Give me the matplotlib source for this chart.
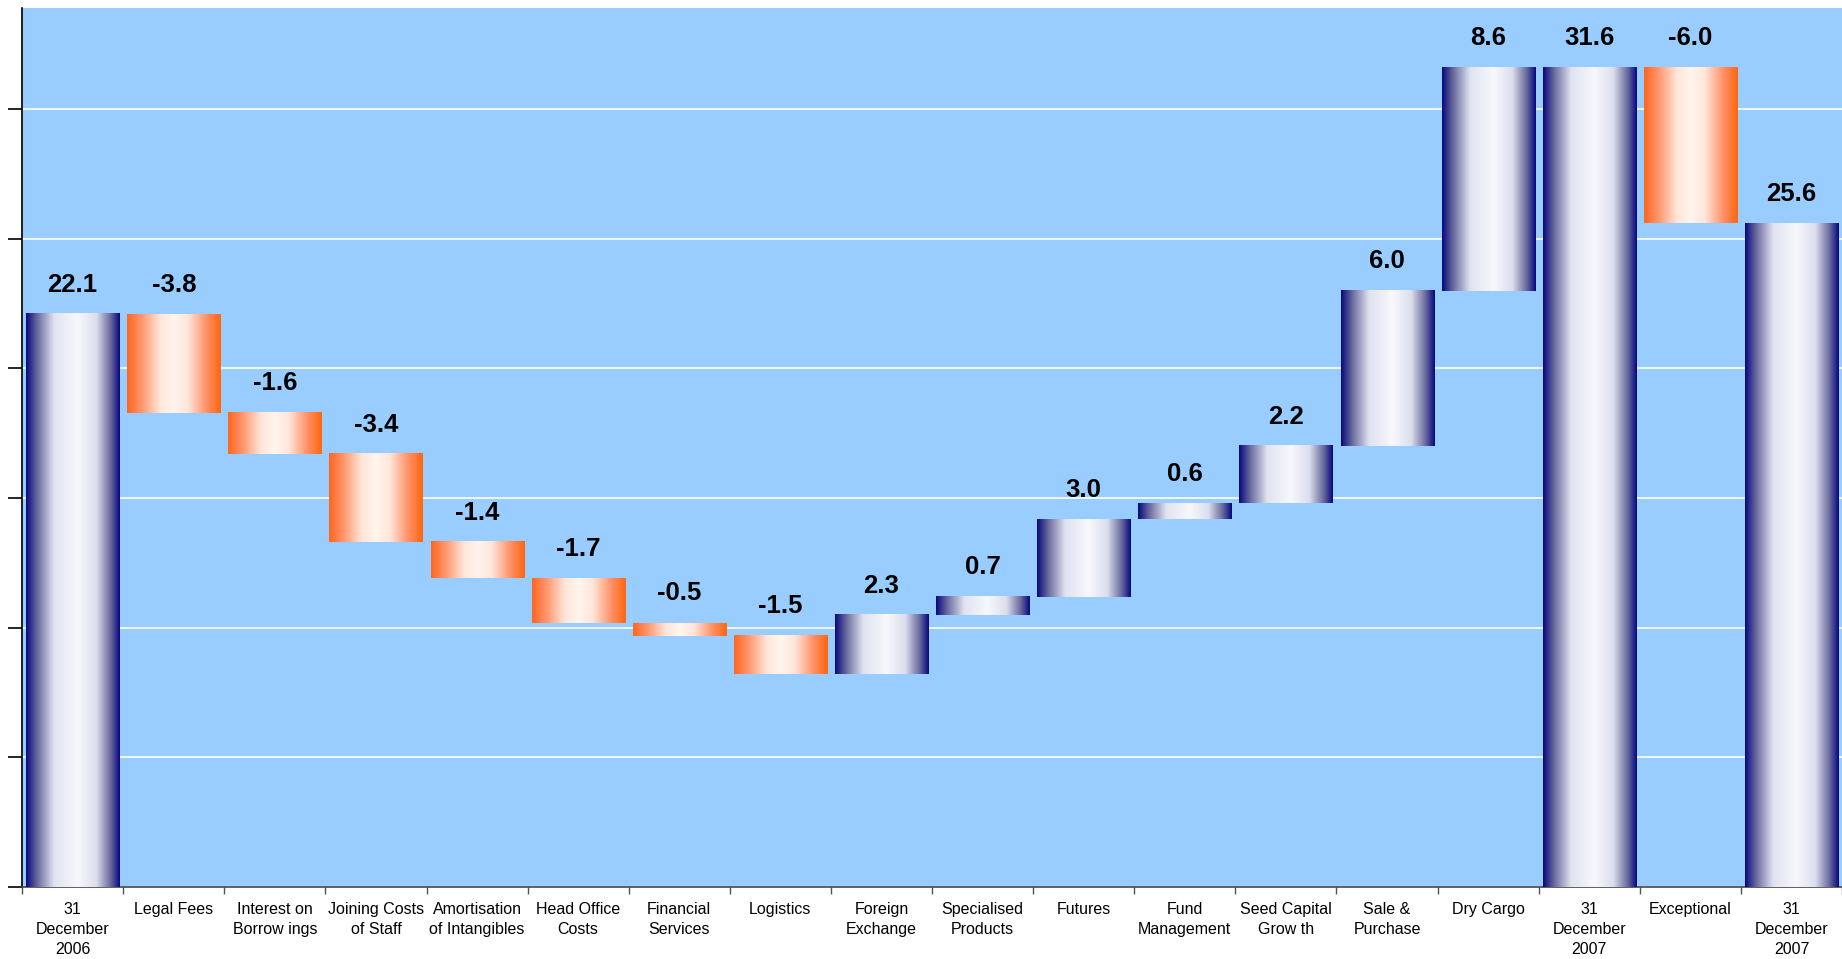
import numpy as np
import matplotlib
matplotlib.use('Agg')
import matplotlib.pyplot as plt
from matplotlib.colors import LinearSegmentedColormap

#-------------------------------------------------------------
# data
categories = ['31\nDecember\n2006', 'Legal Fees', 'Interest on\nBorrow ings',
              'Joining Costs\nof Staff', 'Amortisation\nof Intangibles',
              'Head Office\nCosts', 'Financial\nServices', 'Logistics',
              'Foreign\nExchange', 'Specialised\nProducts', 'Futures',
              'Fund\nManagement', 'Seed Capital\nGrow th', 'Sale &\nPurchase',
              'Dry Cargo', '31\nDecember\n2007', 'Exceptional', '31\nDecember\n2007']
values    = [22.1, -3.8, -1.6, -3.4, -1.4, -1.7, -0.5, -1.5, 2.3, 0.7, 3.0,
             0.6, 2.2, 6.0, 8.6, 31.6, -6.0, 25.6]
is_total  = [True, False, False, False, False, False, False, False, False,
             False, False, False, False, False, False, True, False, True]

#-------------------------------------------------------------
plt.rcParams['font.family'] = ['Liberation Sans', 'DejaVu Sans']

blue_cmap = LinearSegmentedColormap.from_list('blue_grad', [
    (0.00, (0.03, 0.03, 0.50)),
    (0.12, (0.42, 0.42, 0.62)),
    (0.30, (0.88, 0.89, 0.94)),
    (0.55, (0.97, 0.97, 0.99)),
    (0.75, (0.86, 0.87, 0.93)),
    (0.90, (0.42, 0.42, 0.62)),
    (1.00, (0.03, 0.03, 0.50))])
orange_cmap = LinearSegmentedColormap.from_list('orange_grad', [
    (0.00, (1.00, 0.40, 0.12)),
    (0.15, (1.00, 0.58, 0.42)),
    (0.35, (1.00, 0.90, 0.85)),
    (0.50, (1.00, 0.96, 0.93)),
    (0.65, (1.00, 0.90, 0.85)),
    (0.85, (1.00, 0.56, 0.40)),
    (1.00, (1.00, 0.40, 0.05))])

fig = plt.figure(figsize=(18.42, 9.59), dpi=100)
ax = fig.add_axes([0.012, 0.075, 0.988, 0.9167])
ax.set_facecolor('#99CCFF')

grad = np.linspace(0, 1, 256).reshape(1, -1)
bar_w = 0.92
running = 0.0
for i, v in enumerate(values):
    if is_total[i]:
        lo, hi = 0.0, v
        running = v
    else:
        lo, hi = sorted([running, running + v])
        running = running + v
    cmap = orange_cmap if v < 0 else blue_cmap
    ax.imshow(grad, extent=(i - bar_w / 2, i + bar_w / 2, lo, hi),
              cmap=cmap, aspect='auto', interpolation='bilinear', zorder=3)
    ax.annotate('%.1f' % v, xy=(i, hi), xytext=(0, 16), textcoords='offset points',
                ha='center', va='baseline', fontsize=18.5, fontweight='bold',
                color='black', zorder=4)

ax.set_xlim(-0.494, len(values) - 0.53)
ax.set_ylim(0, 33.9)

ax.set_yticks(np.arange(0, 31, 5))
ax.set_yticklabels([])
ax.yaxis.grid(True, color='white', linewidth=1.2, zorder=1)
ax.set_axisbelow(True)
ax.tick_params(axis='y', direction='out', length=10, width=1.2, color='black')

ax.set_xticks(np.arange(len(values)))
ax.set_xticklabels(categories, fontsize=11.5, linespacing=1.4)
ax.set_xticks(np.arange(-0.5, len(values), 1), minor=True)
ax.tick_params(axis='x', which='major', length=0, pad=11)
ax.tick_params(axis='x', which='minor', direction='out', length=5, width=1, color='#555555')

for s in ['top', 'right']:
    ax.spines[s].set_visible(False)
ax.spines['left'].set_color('black')
ax.spines['left'].set_linewidth(1.2)
ax.spines['bottom'].set_color('#444444')
ax.spines['bottom'].set_linewidth(1.2)

plt.savefig('out.png', dpi=100)
